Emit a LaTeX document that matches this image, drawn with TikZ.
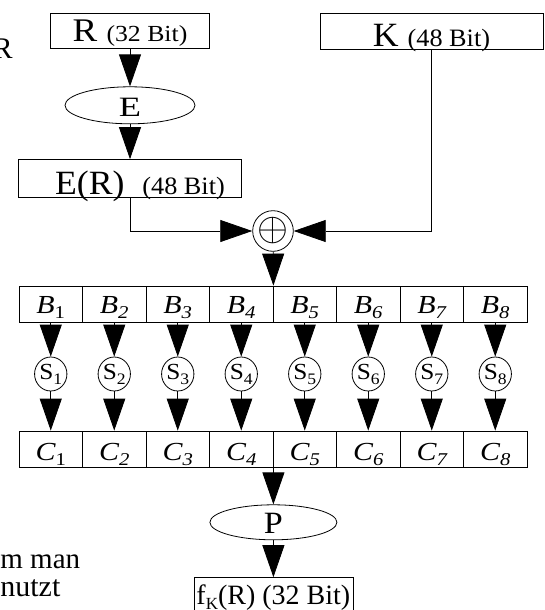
\documentclass[tikz,border=0pt]{standalone}
\usepackage{fontspec}
\setmainfont{Liberation Serif}
\usetikzlibrary{positioning, arrows.meta, shapes.geometric}

\newcommand{\fs}[1]{\fontsize{#1}{#1}\selectfont}
\newcommand{\wide}[2]{\scalebox{#1}[1]{#2}}
\newcommand{\lowidx}[2][18]{\raisebox{-5pt}{\fs{#1}#2}}
\newcommand{\cellidx}[1]{\ifnum#1=1 \upshape#1\else\itshape#1\fi}

\begin{document}
\begin{tikzpicture}[->, >={Triangle[length=32pt, width=22pt]}, x=1pt, y=-1pt,
    line width=0.8pt,
    box/.style={draw, rectangle, inner sep=0pt, text depth=0pt},
    cell/.style={box, minimum width=63.5pt, minimum height=36pt},
    oval/.style={draw, ellipse, inner sep=0pt, text depth=0pt},
    sbox/.style={draw, ellipse, inner sep=0pt, minimum width=32pt, minimum height=34pt}]
  \useasboundingbox (0,0) rectangle (544,610);

  % cut-off text of the page around the figure
  \node[anchor=base east, inner sep=0pt] (cutR) at (13,59) {\fs{30}R};
  \node[anchor=base west, inner sep=0pt] (cutA) at (0,568) {\fs{29}m man};
  \node[anchor=base west, inner sep=0pt] (cutB) at (0,596) {\fs{30}nutzt};

  % input side
  \node[box, minimum width=159pt, minimum height=35pt, text height=23pt] (R) at (130,30.5)
    {\wide{1.12}{\fs{33}R \fs{23}(32 Bit)}};
  \node[oval, minimum width=130pt, minimum height=37pt, text height=22pt] (E) [below=38pt of R]
    {\wide{1.3}{\fs{28}E}};
  \node[box, minimum width=223pt, minimum height=38pt, text height=32pt] (ER) [below=35pt of E]
    {\hspace*{20pt}\wide{1.05}{\fs{34}E(R)\ \ \fs{25}(48 Bit)}};
  \node[box, minimum width=223pt, minimum height=36pt, text height=32pt] (K) at (431.5,31)
    {\wide{1.05}{\fs{34}K \fs{25}(48 Bit)}};
  \node[circle, draw, inner sep=0pt, minimum size=33pt] (xor) at (273,231)
    {\fs{24}\scalebox{1.6}{$\oplus$}};

  % S-boxes
  \foreach \i in {1,...,8} {
    \node[cell, text height=18pt] (B\i) at ({19+63.5*(\i-0.5)},304)
      {\wide{1.15}{\fs{26}\itshape B\lowidx{\cellidx{\i}}}};
    \node[sbox] (S\i) at ({19+63.5*(\i-0.5)},374) {\wide{1.1}{\fs{23}S\lowidx[16]{\i}}};
    \node[cell, text height=22pt] (C\i) at ({19+63.5*(\i-0.5)},449)
      {\wide{1.15}{\fs{26}\itshape C\lowidx{\cellidx{\i}}}};
    \draw (B\i) -- (S\i);
    \draw (S\i) -- (C\i);
  }

  % output side
  \node[oval, minimum width=127pt, minimum height=35pt, text height=23pt] (P) [below=37pt of C4.south east]
    {\wide{1.1}{\fs{31}P}};
  \node[box, minimum width=159pt, minimum height=38pt, text height=16pt] (fK) [below=37pt of P]
    {\fs{28}f\lowidx[17]{K}(R) (32 Bit)};

  \draw (R) -- (E);
  \draw (E) -- (ER);
  \draw (ER.south) |- (xor.west);
  \draw (K.south) |- (xor.east);
  \draw (xor) -- (B4.north east);
  \draw (C4.south east) -- (P);
  \draw (P) -- (fK);
\end{tikzpicture}
\end{document}
